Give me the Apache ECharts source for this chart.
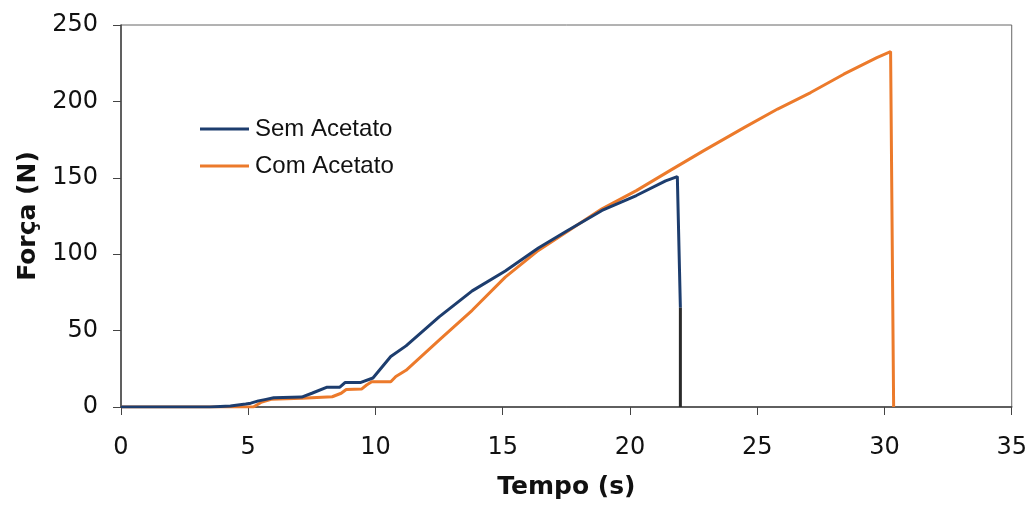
<!DOCTYPE html>
<html>
  <head>
    <title></title>
    <meta charset="UTF-8" />
    <script src="https://cdn.jsdelivr.net/npm/echarts@6/dist/echarts.min.js"></script>
    <style>
      html, body { margin: 0; padding: 0; background: #fff; }
    </style>
  </head>
  <body>
    <div id="main"></div>
    <script>
      const width = 1030;
      const height = 508;
      const main = document.getElementById('main');
      main.style.width = `${width}px`;
      main.style.height = `${height}px`;

      const xTicks = [0, 5, 10, 15, 20, 25, 30, 35];
      const yTicks = [0, 50, 100, 150, 200, 250];

      // Sem Acetato
      const semTempo = [0, 3.5, 4.3, 4.9, 5.1, 5.4, 5.7, 6.0, 7.1, 7.5, 8.1, 8.6, 8.8, 9.4, 9.9, 10.6, 11.2, 12.5, 13.8, 15.1, 16.4, 17.5, 18.9, 20.25, 21.4, 21.86, 21.98];
      const semForca = [0, 0, 0.7, 2, 2.5, 4, 5, 6, 6.5, 9, 13, 13, 16, 16, 19, 33, 40, 59, 76, 89, 104, 115, 128.6, 138.4, 148, 150.8, 65];
      // final da queda (trecho escuro)
      const quedaTempo = [21.98, 21.98];
      const quedaForca = [65, 0];

      // Com Acetato
      const comTempo = [0, 5.2, 5.5, 5.9, 7.1, 8.3, 8.65, 8.85, 9.45, 9.65, 9.85, 10.6, 10.8, 11.2, 12.5, 13.8, 15.1, 16.4, 17.6, 18.9, 20.25, 21.6, 22.9, 24.5, 25.8, 27.1, 28.4, 29.7, 30.24, 30.36];
      const comForca = [0, 0, 3, 5, 5.7, 6.7, 9, 11.5, 11.7, 14.4, 16.5, 16.5, 20, 24, 43.7, 63.3, 85, 102.5, 115.5, 129.7, 141.6, 155, 167.8, 183, 195, 205.8, 217.8, 228.7, 232.6, 0];

      const zip = (xs, ys) => xs.map((x, i) => [x, ys[i]]);

      const myChart = echarts.init(main);
      const option = {
        animation: false,
        backgroundColor: '#fff',
        grid: {
          left: 121,
          right: 18,
          top: 25,
          bottom: 101,
          show: true,
          borderColor: '#666',
          borderWidth: 1,
        },
        legend: {
          orient: 'vertical',
          left: 200,
          top: 117,
          padding: 0,
          icon: 'rect',
          itemWidth: 49,
          itemHeight: 3,
          itemGap: 13,
          data: ['Sem Acetato', 'Com Acetato'],
          textStyle: {
            fontFamily: 'Liberation Sans',
            fontSize: 24,
            color: '#111',
            padding: [0, 0, 0, 1],
          },
        },
        xAxis: {
          type: 'value',
          min: xTicks[0],
          max: xTicks[xTicks.length - 1],
          interval: 5,
          name: 'Tempo (s)',
          nameLocation: 'middle',
          nameGap: 68,
          nameTextStyle: {
            fontFamily: 'DejaVu Sans',
            fontWeight: 'bold',
            fontSize: 25,
            color: '#111',
          },
          axisLine: { lineStyle: { color: '#444', width: 1.5 } },
          axisTick: { length: 8, lineStyle: { color: '#444' } },
          axisLabel: {
            margin: 29,
            fontFamily: 'DejaVu Sans',
            fontSize: 24,
            color: '#111',
          },
          splitLine: { show: false },
        },
        yAxis: {
          type: 'value',
          min: yTicks[0],
          max: yTicks[yTicks.length - 1],
          interval: 50,
          name: 'Força (N)',
          nameLocation: 'middle',
          nameGap: 80,
          nameTextStyle: {
            fontFamily: 'DejaVu Sans',
            fontWeight: 'bold',
            fontSize: 25,
            color: '#111',
          },
          axisLine: { show: true, lineStyle: { color: '#444', width: 1.5 } },
          axisTick: { show: true, length: 8, lineStyle: { color: '#444' } },
          axisLabel: {
            margin: 23,
            fontFamily: 'DejaVu Sans',
            fontSize: 24,
            color: '#111',
          },
          splitLine: { show: false },
        },
        series: [
          {
            name: 'Sem Acetato',
            type: 'line',
            data: zip(semTempo, semForca),
            symbol: 'none',
            color: '#1d3d6e',
            lineStyle: { width: 3, color: '#1d3d6e' },
            z: 3,
          },
          {
            name: 'Com Acetato',
            type: 'line',
            data: zip(comTempo, comForca),
            symbol: 'none',
            color: '#ec7a2b',
            lineStyle: { width: 3, color: '#ec7a2b' },
            z: 2,
          },
          {
            name: 'queda',
            type: 'line',
            data: zip(quedaTempo, quedaForca),
            symbol: 'none',
            lineStyle: { width: 3, color: '#2a2a2a' },
            z: 4,
          },
        ],
      };
      myChart.setOption(option);
    </script>
  </body>
</html>
